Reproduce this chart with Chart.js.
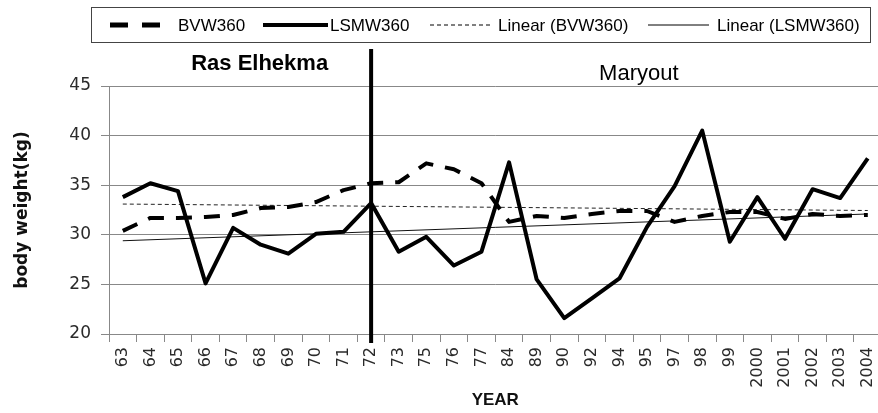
<!DOCTYPE html>
<html lang="en">
<head>
<meta charset="UTF-8">
<title>Body weight BVW360 / LSMW360</title>
<script src="https://cdn.jsdelivr.net/npm/chart.js@4.4.1/dist/chart.umd.min.js"></script>
<style>
  html, body { margin: 0; padding: 0; overflow: hidden; background: #fff; }
  canvas { display: block; }
</style>
</head>
<body>
<canvas id="chart" width="892" height="413"></canvas>
<script>
// values
const years = ['63', '64', '65', '66', '67', '68', '69', '70', '71', '72', '73', '75', '76', '77',
               '84', '89', '90', '92', '94', '95', '97', '98', '99', '2000', '2001', '2002', '2003', '2004'];
const bvw360 = [30.4, 31.7, 31.7, 31.8, 32.0, 32.7, 32.8, 33.3, 34.5, 35.2, 35.3, 37.2, 36.6, 35.2,
                31.3, 31.9, 31.7, 32.1, 32.4, 32.4, 31.3, 31.9, 32.3, 32.3, 31.6, 32.1, 31.9, 32.0];
const lsmw360 = [33.8, 35.2, 34.4, 25.1, 30.7, 29.0, 28.1, 30.1, 30.3, 33.2, 28.3, 29.8, 26.9, 28.3,
                 37.3, 25.5, 21.6, 23.6, 25.6, 30.8, 34.9, 40.5, 29.3, 33.8, 29.6, 34.6, 33.7, 37.7];
// trend line end values (first year, last year)
const bvwTrendEnds = [33.1, 32.45];
const lsmwTrendEnds = [29.4, 32.1];
const yMin = 20, yMax = 45, yStep = 5;
const dividerYear = '72';
const regionLabels = ['Ras Elhekma', 'Maryout'];
const seriesNames = ['BVW360', 'LSMW360', 'Linear (BVW360)', 'Linear (LSMW360)'];

function trendSeries(ends) {
  return years.map((y, i) => i === 0 ? ends[0] : (i === years.length - 1 ? ends[1] : null));
}

const GRID = '#888888';
const TXT = '#2a2a2a';

const overlay = {
  id: 'overlay',
  afterDatasetsDraw(chart) {
    const ctx = chart.ctx;
    const lx = chart.scales.x.getPixelForValue(years.indexOf(dividerYear));
    ctx.save();
    ctx.strokeStyle = '#000';
    ctx.lineWidth = 4;
    ctx.beginPath();
    ctx.moveTo(lx, 49);
    ctx.lineTo(lx, 343);
    ctx.stroke();
    ctx.fillStyle = '#000';
    ctx.textBaseline = 'alphabetic';
    ctx.font = 'bold 22px "Liberation Sans", Arial, sans-serif';
    ctx.textAlign = 'right';
    ctx.fillText(regionLabels[0], lx - 43, 70);
    ctx.font = '22px "Liberation Sans", Arial, sans-serif';
    ctx.textAlign = 'left';
    ctx.fillText(regionLabels[1], lx + 228, 80);
    ctx.restore();
  },
  afterDraw(chart) {
    // legend box like the spreadsheet one
    const ctx = chart.ctx;
    ctx.save();
    ctx.strokeStyle = '#444';
    ctx.lineWidth = 1;
    ctx.strokeRect(91.5, 7.5, 779, 35);
    const cy = 25;
    const samples = [
      {x0: 110, x1: 160, w: 5, dash: [18, 14], tx: 178},
      {x0: 263, x1: 328, w: 4, dash: [], tx: 330},
      {x0: 430, x1: 492, w: 1, dash: [4, 3], tx: 498},
      {x0: 648, x1: 709, w: 1, dash: [], tx: 717}
    ];
    ctx.font = '17px "Liberation Sans", Arial, sans-serif';
    ctx.textBaseline = 'middle';
    ctx.textAlign = 'left';
    samples.forEach((s, i) => {
      ctx.strokeStyle = '#000';
      ctx.lineWidth = s.w;
      ctx.setLineDash(s.dash);
      ctx.beginPath();
      ctx.moveTo(s.x0, cy);
      ctx.lineTo(s.x1, cy);
      ctx.stroke();
      ctx.setLineDash([]);
      ctx.fillStyle = '#000';
      ctx.fillText(seriesNames[i], s.tx, cy + 1);
    });
    ctx.restore();
  }
};

new Chart(document.getElementById('chart'), {
  type: 'line',
  data: {
    labels: years,
    datasets: [
      {
        label: seriesNames[0], data: bvw360,
        borderColor: '#000', borderWidth: 4, borderDash: [16, 12],
        borderJoinStyle: 'round', pointRadius: 0, tension: 0
      },
      {
        label: seriesNames[1], data: lsmw360,
        borderColor: '#000', borderWidth: 4,
        borderJoinStyle: 'round', pointRadius: 0, tension: 0
      },
      {
        label: seriesNames[2], data: trendSeries(bvwTrendEnds),
        borderColor: '#222', borderWidth: 1, borderDash: [4, 3],
        pointRadius: 0, spanGaps: true
      },
      {
        label: seriesNames[3], data: trendSeries(lsmwTrendEnds),
        borderColor: '#111', borderWidth: 1,
        pointRadius: 0, spanGaps: true
      }
    ]
  },
  options: {
    responsive: false,
    animation: false,
    layout: { padding: { top: 86, right: 2, left: 0, bottom: 0 } },
    plugins: {
      legend: { display: false },
      tooltip: { enabled: false }
    },
    scales: {
      x: {
        offset: true,
        afterFit(s) { s.height = 79; },
        grid: { offset: true, drawOnChartArea: false, drawTicks: true, tickLength: 8, color: GRID },
        border: { color: GRID, width: 1 },
        ticks: {
          minRotation: 90, maxRotation: 90, autoSkip: false, padding: 5,
          color: TXT, font: { family: '"DejaVu Sans", sans-serif', size: 16 }
        },
        title: {
          display: true, text: 'YEAR', color: '#111',
          font: { family: '"Liberation Sans", Arial, sans-serif', size: 17, weight: 'bold' },
          padding: { top: 0, bottom: 2 }
        }
      },
      y: {
        min: yMin, max: yMax,
        afterFit(s) { s.width = 109; },
        grid: { color: GRID, tickLength: 8 },
        border: { color: GRID, width: 1 },
        ticks: {
          stepSize: yStep, padding: 10, color: TXT,
          font: { family: '"DejaVu Sans", sans-serif', size: 17 }
        },
        title: {
          display: true, text: 'body weight(kg)', color: '#111',
          font: { family: '"DejaVu Sans", sans-serif', size: 17, weight: 'bold' },
          padding: { top: 12, bottom: 0 }
        }
      }
    }
  },
  plugins: [overlay]
});
</script>
</body>
</html>
